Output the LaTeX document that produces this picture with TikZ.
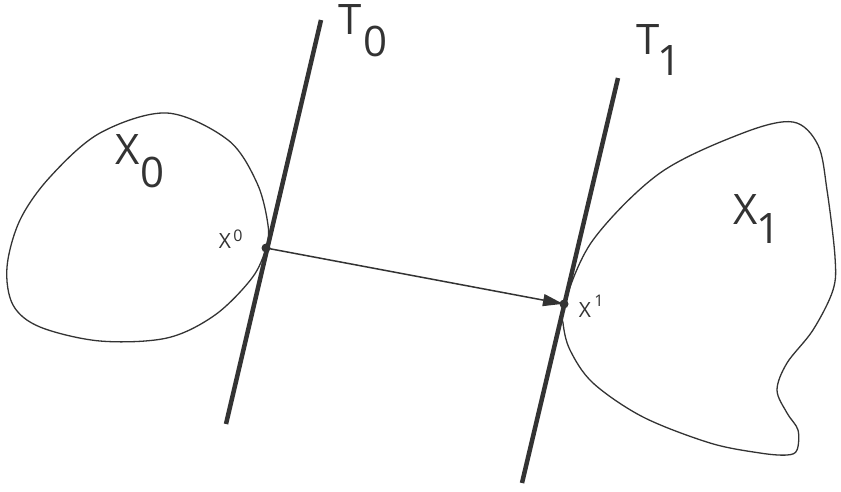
\documentclass[tikz,border=0pt]{standalone}
\usepackage{fontspec}
\setmainfont{Open Sans}
\usetikzlibrary{arrows.meta}
\definecolor{ink}{HTML}{333333}
\tikzset{
  tline/.style={draw=ink, line width=4.5pt, line cap=butt},
  blob/.style={draw=ink, line width=1.3pt},
  conn/.style={draw=ink, line width=1.5pt, -{Triangle[length=20pt,width=12pt]}, shorten >=1pt},
  dot/.style={circle, fill=ink, inner sep=0pt, minimum size=9pt},
  big/.style={inner sep=0pt, text=ink, font=\fontsize{42}{42}\selectfont},
  small/.style={inner sep=0pt, text=ink, font=\fontsize{21}{21}\selectfont},
  tiny/.style={inner sep=0pt, text=ink, font=\fontsize{16}{16}\selectfont},
}
\begin{document}
\begin{tikzpicture}[x=1pt,y=-1pt]
\useasboundingbox (0,0) rectangle (841,491);
% tangent lines
\coordinate (t0a) at (321,20);
\coordinate (t0b) at (226,424);
\coordinate (t1a) at (618,78);
\coordinate (t1b) at (522,483);
\draw[tline] (t0a) -- (t0b);
\draw[tline] (t1a) -- (t1b);
% sets
\draw[blob] plot[smooth cycle, tension=0.55] coordinates {
 (167,113) (228,140) (257,183) (268,225) (266,248) (252,278) (215,315)
 (167,338) (100,341) (40,327) (13,305) (7,267) (20,220) (50,177) (100,133)};
\draw[blob] plot[smooth cycle, tension=0.55] coordinates {
 (564,304) (593,240) (660,173) (743,133) (793,122) (818,145) (827,190)
 (835,257) (833,290) (813,330) (787,363) (777,390) (787,413) (798,430)
 (797,450) (787,455) (760,453) (710,443) (643,417) (593,383) (570,350) (563,323)};
% points
\node[dot] (x0) at (266,248) {};
\node[dot] (x1) at (564,304) {};
\draw[conn] (x0.center) -- (x1.center);
% labels
\node[big] (X0m) at (128,150) {X};
\node[big] (X0s) at (153,172) {0};
\node[big] (T0m) at (350,20) {T};
\node[big] (T0s) at (376,41) {0};
\node[big] (T1m) at (648,40) {T};
\node[big] (T1s) at (670,61) {1};
\node[big] (X1m) at (746,210) {X};
\node[big] (X1s) at (768,229) {1};
\node[small] (p0m) at (225,241) {X};
\node[tiny] (p0s) at (238,236) {0};
\node[small] (p1m) at (585,310) {X};
\node[tiny] (p1s) at (599,301) {1};
\end{tikzpicture}
\end{document}
